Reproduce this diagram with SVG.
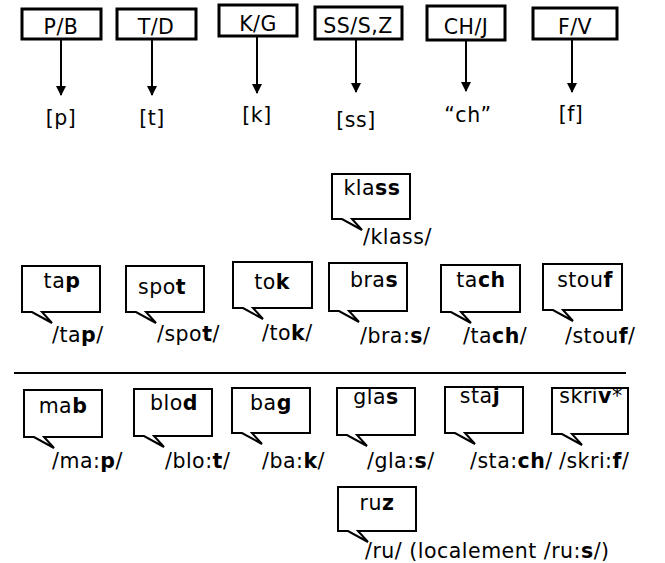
<svg xmlns="http://www.w3.org/2000/svg" width="665" height="563" viewBox="0 0 665 563">
<style>
text{font-family:"DejaVu Sans","Liberation Sans",sans-serif;font-size:20.5px;letter-spacing:0.5px;fill:#000}
.mid{text-anchor:middle}
.box{fill:#fff;stroke:#000;stroke-width:3}
.bub{fill:#fff;stroke:#000;stroke-width:2;stroke-linejoin:miter}
.b{font-weight:bold}
.con{stroke:#000;stroke-width:2;fill:none}
</style>
<defs>
<marker id="ah" markerUnits="userSpaceOnUse" markerWidth="10" markerHeight="14" refX="9" refY="5" orient="auto">
<path d="M0,0 L10,5 L0,10 Z" fill="#000"/>
</marker>
</defs>
<rect width="665" height="563" fill="#fff"/>

<g id="connectors">
<line class="con" x1="61" y1="39" x2="61" y2="95" marker-end="url(#ah)"/>
<line class="con" x1="152" y1="39" x2="152" y2="95" marker-end="url(#ah)"/>
<line class="con" x1="257" y1="36" x2="257" y2="93" marker-end="url(#ah)"/>
<line class="con" x1="356" y1="39" x2="356" y2="92" marker-end="url(#ah)"/>
<line class="con" x1="466" y1="40" x2="466" y2="91" marker-end="url(#ah)"/>
<line class="con" x1="572" y1="39" x2="572" y2="92" marker-end="url(#ah)"/>
<line class="con" x1="14" y1="373" x2="626" y2="373"/>
</g>

<g id="n-pb"><rect class="box" x="22" y="9" width="79" height="30"/><text class="mid" x="61" y="34">P/B</text></g>
<g id="n-td"><rect class="box" x="117" y="9" width="79" height="30"/><text class="mid" x="156" y="34">T/D</text></g>
<g id="n-kg"><rect class="box" x="219" y="5" width="78" height="31"/><text class="mid" x="258" y="31">K/G</text></g>
<g id="n-ss"><rect class="box" x="315" y="7" width="87" height="32"/><text class="mid" x="358" y="33">SS/S,Z</text></g>
<g id="n-ch"><rect class="box" x="427" y="6" width="78" height="34"/><text class="mid" x="466" y="34">CH/J</text></g>
<g id="n-fv"><rect class="box" x="533" y="8" width="84" height="31"/><text class="mid" x="575" y="34">F/V</text></g>

<g id="l-p"><text class="mid" x="61" y="125">[p]</text></g>
<g id="l-t"><text class="mid" x="152" y="125">[t]</text></g>
<g id="l-k"><text class="mid" x="257" y="122">[k]</text></g>
<g id="l-ss"><text class="mid" x="356" y="127">[ss]</text></g>
<g id="l-ch"><text class="mid" x="468" y="122">“ch”</text></g>
<g id="l-f"><text class="mid" x="571" y="121">[f]</text></g>

<g id="b-klass"><path class="bub" d="M332,174 H410 V219 H352 L362,230 L342,219 H332 Z"/><text class="mid" x="372" y="195">kla<tspan class="b">ss</tspan></text><text x="363" y="244">/klass/</text></g>

<g id="b-tap"><path class="bub" d="M22,266 H100 V312 H42 L52,323 L32,312 H22 Z"/><text class="mid" x="62" y="288">ta<tspan class="b">p</tspan></text><text x="52" y="342">/ta<tspan class="b">p</tspan>/</text></g>
<g id="b-spot"><path class="bub" d="M126,266 H204 V312 H146 L156,323 L136,312 H126 Z"/><text class="mid" x="162" y="294">spo<tspan class="b">t</tspan></text><text x="157" y="341">/spo<tspan class="b">t</tspan>/</text></g>
<g id="b-tok"><path class="bub" d="M233,262 H312 V308 H253 L263,319 L243,308 H233 Z"/><text class="mid" x="272" y="289">to<tspan class="b">k</tspan></text><text x="262" y="340">/to<tspan class="b">k</tspan>/</text></g>
<g id="b-bras"><path class="bub" d="M329,263 H407 V311 H349 L359,322 L339,311 H329 Z"/><text class="mid" x="374" y="287">bra<tspan class="b">s</tspan></text><text x="360" y="343">/bra:<tspan class="b">s</tspan>/</text></g>
<g id="b-tach"><path class="bub" d="M441,265 H520 V312 H461 L471,323 L451,312 H441 Z"/><text class="mid" x="481" y="287">ta<tspan class="b">ch</tspan></text><text x="463" y="343">/ta<tspan class="b">ch</tspan>/</text></g>
<g id="b-stouf"><path class="bub" d="M543,264 H622 V310 H563 L573,321 L553,310 H543 Z"/><text class="mid" x="585" y="287">stou<tspan class="b">f</tspan></text><text x="565" y="343">/stou<tspan class="b">f</tspan>/</text></g>

<g id="b-mab"><path class="bub" d="M24,390 H102 V437 H44 L54,448 L34,437 H24 Z"/><text class="mid" x="63" y="413">ma<tspan class="b">b</tspan></text><text x="52" y="468">/ma:<tspan class="b">p</tspan>/</text></g>
<g id="b-blod"><path class="bub" d="M134,389 H212 V436 H154 L164,447 L144,436 H134 Z"/><text class="mid" x="174" y="410">blo<tspan class="b">d</tspan></text><text x="165" y="468">/blo:<tspan class="b">t</tspan>/</text></g>
<g id="b-bag"><path class="bub" d="M232,388 H310 V433 H252 L262,444 L242,433 H232 Z"/><text class="mid" x="271" y="410">ba<tspan class="b">g</tspan></text><text x="262" y="468">/ba:<tspan class="b">k</tspan>/</text></g>
<g id="b-glas"><path class="bub" d="M337,388 H415 V435 H357 L367,446 L347,435 H337 Z"/><text class="mid" x="376" y="404">gla<tspan class="b">s</tspan></text><text x="367" y="468">/gla:<tspan class="b">s</tspan>/</text></g>
<g id="b-staj"><path class="bub" d="M445,387 H523 V433 H465 L475,444 L455,433 H445 Z"/><text class="mid" x="480" y="403">sta<tspan class="b">j</tspan></text><text x="470" y="468">/sta:<tspan class="b">ch</tspan>/</text></g>
<g id="b-skriv"><path class="bub" d="M552,388 H628 V434 H572 L582,445 L562,434 H552 Z"/><text class="mid" x="591" y="403">skri<tspan class="b">v</tspan>*</text><text x="559" y="468">/skri:<tspan class="b">f</tspan>/</text></g>

<g id="b-ruz"><path class="bub" d="M338,487 H416 V531 H358 L368,542 L348,531 H338 Z"/><text class="mid" x="377" y="510">ru<tspan class="b">z</tspan></text><text x="365" y="558">/ru/ (localement /ru:<tspan class="b">s</tspan>/)</text></g>
</svg>
